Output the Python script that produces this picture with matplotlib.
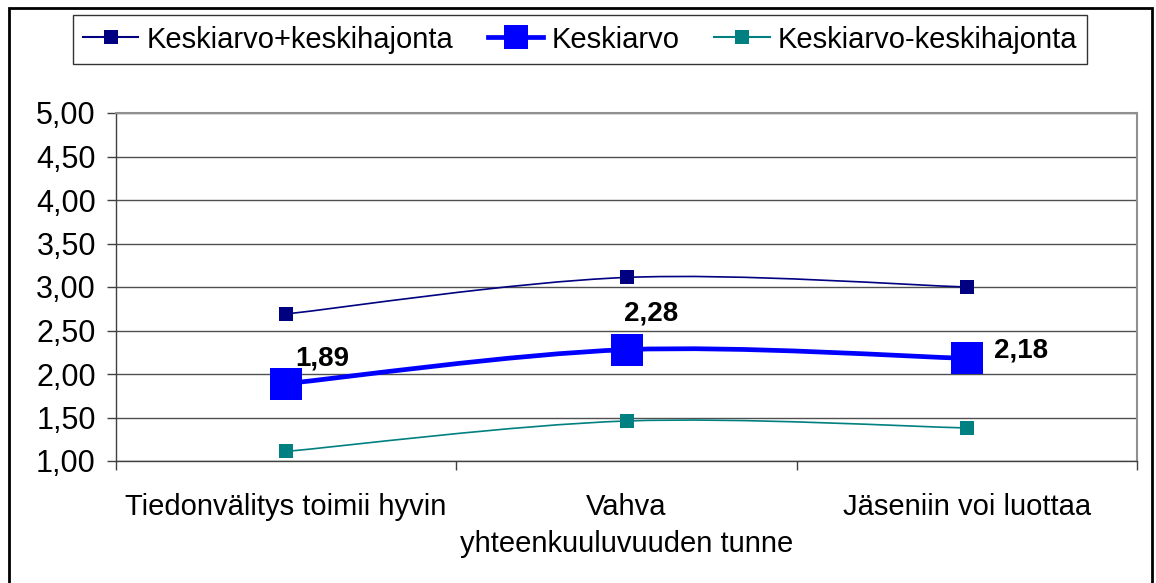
import numpy as np
import matplotlib
matplotlib.use("Agg")
import matplotlib.pyplot as plt
from matplotlib.path import Path
from matplotlib.patches import PathPatch, Rectangle
from matplotlib.lines import Line2D

plt.rcParams["font.family"] = ["Liberation Sans", "DejaVu Sans"]

categories = ["Tiedonvälitys toimii hyvin", "Vahva\nyhteenkuuluvuuden tunne",
              "Jäseniin voi luottaa"]
upper = [2.69, 3.11, 3.00]
mean = [1.89, 2.28, 2.18]
lower = [1.11, 1.46, 1.38]
yticks = [1.0, 1.5, 2.0, 2.5, 3.0, 3.5, 4.0, 4.5, 5.0]

C_UP, C_MEAN, C_LOW = "#000080", "#0000ff", "#008080"
W, H = 1156, 583


def smooth_path(xs, ys):
    # Excel-like smoothed line: Catmull-Rom as cubic bezier segments
    pts = np.column_stack([xs, ys]).astype(float)
    n = len(pts)
    verts, codes = [pts[0]], [Path.MOVETO]
    for i in range(n - 1):
        p0 = pts[i - 1] if i > 0 else pts[i]
        p1, p2 = pts[i], pts[i + 1]
        p3 = pts[i + 2] if i + 2 < n else pts[i + 1]
        c1 = p1 + (p2 - p0) / 6
        c2 = p2 - (p3 - p1) / 6
        verts += [c1, c2, p2]
        codes += [Path.CURVE4] * 3
    return Path(verts, codes)


fig = plt.figure(figsize=(W / 100, H / 100), dpi=100)
ax = fig.add_axes([116 / W, 1 - 461 / H, (1137 - 116) / W, (461 - 113) / H])

x = np.arange(len(categories)) + 0.5
series = [(upper, C_UP, 1.2, 9.5), (mean, C_MEAN, 3.4, 23), (lower, C_LOW, 1.2, 9.5)]
for vals, col, lw, ms in series:
    ax.add_patch(PathPatch(smooth_path(x, vals), fill=False, edgecolor=col,
                           lw=lw, zorder=3))
    ax.plot(x, vals, ls="none", marker="s", ms=ms, color=col, zorder=4,
            markeredgewidth=0)

offsets = [(26, 18), (18, 26), (39, 6)]
for xi, v, off in zip(x, mean, offsets):
    ax.annotate(f"{v:.2f}".replace(".", ","), (xi, v), xytext=off,
                textcoords="offset points", ha="center", va="center",
                fontsize=20, fontweight="bold", color="black", zorder=5)

ax.set_xlim(0, len(categories))
ax.set_ylim(1, 5)
ax.set_yticks(yticks)
ax.set_yticklabels([f"{t:.2f}".replace(".", ",") for t in yticks], fontsize=22)
ax.set_xticks(np.arange(len(categories) + 1))
ax.set_xticklabels([])
ax.set_xticks(x, minor=True)
ax.set_xticklabels(categories, minor=True, fontsize=21, linespacing=1.4)
ax.tick_params(axis="x", which="minor", length=0, pad=23)
ax.tick_params(axis="x", which="major", length=6.5, width=1, color="#404040")
ax.tick_params(axis="y", length=6.5, width=1, color="#404040", pad=8)
ax.grid(axis="y", color="#505050", lw=1)
ax.set_axisbelow(True)
for s in ("top", "right"):
    ax.spines[s].set_color("#909090")
    ax.spines[s].set_linewidth(1.5)
for s in ("left", "bottom"):
    ax.spines[s].set_color("#404040")
    ax.spines[s].set_linewidth(1)

# legend
handles = [
    Line2D([], [], color=C_UP, lw=1.5, marker="s", ms=10, markeredgewidth=0),
    Line2D([], [], color=C_MEAN, lw=3.4, marker="s", ms=17, markeredgewidth=0),
    Line2D([], [], color=C_LOW, lw=1.5, marker="s", ms=10, markeredgewidth=0),
]
labels = ["Keskiarvo+keskihajonta", "Keskiarvo", "Keskiarvo-keskihajonta"]
leg = fig.legend(handles, labels, loc="center", ncol=3,
                 bbox_to_anchor=((69 + 1091) / 2 / W, 1 - 39.5 / H),
                 fontsize=21, frameon=True, fancybox=False,
                 edgecolor="black", handlelength=1.9, handletextpad=0.27,
                 columnspacing=1.2, borderpad=0.35)
leg.get_frame().set_linewidth(1)

# outer chart border
fig.add_artist(Rectangle((9 / W, -0.02), (1152 - 9) / W, 1.02 - 8 / H,
                         transform=fig.transFigure, fill=False,
                         edgecolor="black", lw=2))

fig.savefig("out.png", dpi=100, facecolor="white")
